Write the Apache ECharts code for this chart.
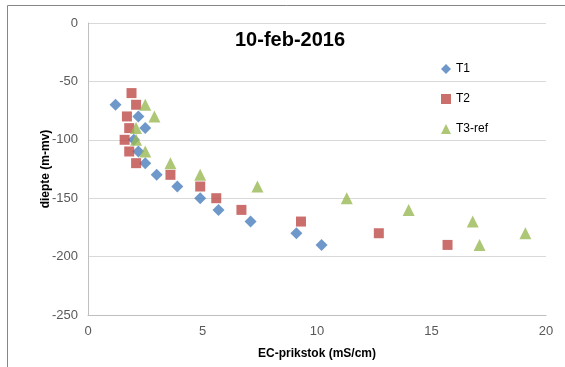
<!DOCTYPE html>
<html><head><meta charset="utf-8">
<script src="https://cdn.jsdelivr.net/npm/echarts@6/dist/echarts.min.js"></script>
<style>html,body{margin:0;padding:0;background:#fff}#c{width:565px;height:367px}</style>
</head><body><div id="c"></div>
<script>
const titleText = "10-feb-2016";
const xName = "EC-prikstok (mS/cm)";
const yName = "diepte (m-mv)";
const t1X = [1.2, 2.2, 2.5, 2.0, 2.2, 2.5, 3.0, 3.9, 4.9, 5.7, 7.1, 9.1, 10.2];
const t1Y = [-70, -80, -90, -100, -110, -120, -130, -140, -150, -160, -170, -180, -190];
const t2X = [1.9, 2.1, 1.7, 1.8, 1.6, 1.8, 2.1, 3.6, 4.9, 5.6, 6.7, 9.3, 12.7, 15.7];
const t2Y = [-60, -70, -80, -90, -100, -110, -120, -130, -140, -150, -160, -170, -180, -190];
const t3X = [2.5, 2.9, 2.1, 2.1, 2.5, 3.6, 4.9, 7.4, 11.3, 14.0, 16.8, 19.1, 17.1];
const t3Y = [-70, -80, -90, -100, -110, -120, -130, -140, -150, -160, -170, -180, -190];

const zip = (xs, ys) => xs.map((x, i) => [x, ys[i]]);
const chart = echarts.init(document.getElementById('c'), null, {renderer: 'canvas'});
const font = "'Liberation Sans', Arial, sans-serif";
chart.setOption({
  animation: false,
  textStyle: {fontFamily: font},
  graphic: [{type: 'rect', shape: {x: 7.5, y: 5.5, width: 600, height: 400}, style: {fill: 'none', stroke: '#868686', lineWidth: 1}, z: -1}],
  title: {text: titleText, left: 285, top: 25, textAlign: 'center',
    textStyle: {fontFamily: font, fontWeight: 'bold', fontSize: 20, color: '#000'}},
  legend: {orient: 'vertical', left: 436, top: 58, itemGap: 18, itemWidth: 10, itemHeight: 10,
    textStyle: {fontFamily: font, fontSize: 12, color: '#000'},
    data: [{name: 'T1', icon: 'diamond'}, {name: 'T2', icon: 'rect'}, {name: 'T3-ref', icon: 'triangle'}]},
  grid: {left: 88, right: 19, top: 23, bottom: 52},
  xAxis: {type: 'value', min: 0, max: 20, interval: 5, name: xName, nameLocation: 'middle', nameGap: 33, nameMoveOverlap: false,
    nameTextStyle: {fontWeight: 'bold', fontSize: 12, color: '#000', fontFamily: font},
    axisLine: {show: true, onZero: false, lineStyle: {color: '#bfbfbf'}}, axisTick: {show: false},
    axisLabel: {color: '#595959', fontSize: 13, margin: 10, fontFamily: font},
    splitLine: {show: false}},
  yAxis: {type: 'value', min: -250, max: 0, interval: 50, name: yName, nameLocation: 'middle', nameGap: 36, nameMoveOverlap: false,
    nameTextStyle: {fontWeight: 'bold', fontSize: 12, color: '#000', fontFamily: font},
    axisLine: {show: true, onZero: false, lineStyle: {color: '#bfbfbf'}}, axisTick: {show: false},
    axisLabel: {color: '#595959', fontSize: 13, margin: 10, fontFamily: font},
    splitLine: {show: true, lineStyle: {color: '#d9d9d9'}}},
  series: [
    {name: 'T1', type: 'scatter', symbol: 'diamond', symbolSize: 12, data: zip(t1X, t1Y), itemStyle: {color: '#4a7ebb'}},
    {name: 'T2', type: 'scatter', symbol: 'rect', symbolSize: 10, data: zip(t2X, t2Y), itemStyle: {color: '#be4b48'}},
    {name: 'T3-ref', type: 'scatter', symbol: 'triangle', symbolSize: 12, data: zip(t3X, t3Y), itemStyle: {color: '#98b954'}}
  ]
});
</script></body></html>
